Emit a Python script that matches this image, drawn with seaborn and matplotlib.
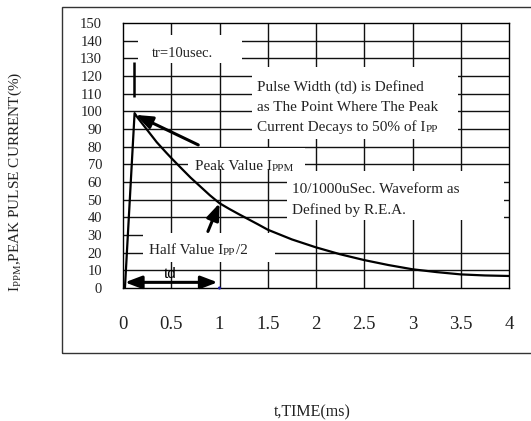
import matplotlib
matplotlib.use("Agg")
import matplotlib.pyplot as plt
import seaborn as sns
import pandas as pd
from matplotlib.patches import Rectangle

# ---- data ----
time_ms = [0.02, 0.12, 0.15, 0.2, 0.25, 0.3, 0.35, 0.4, 0.45, 0.5, 0.6, 0.7,
           0.8, 0.9, 1.0, 1.1, 1.2, 1.3, 1.4, 1.5, 1.75, 2.0, 2.25, 2.5,
           2.75, 3.0, 3.25, 3.5, 3.75, 4.0]
current_pct = [0, 99, 96.5, 93, 89.5, 86, 82.5, 79.5, 76.5, 73.6, 68, 62.5,
               57.5, 52.5, 48, 44.8, 41.8, 38.9, 36, 33, 27.5, 23, 19.1, 15.8,
               13, 10.6, 9, 7.7, 7.1, 6.8]
x_ticks = [0, 0.5, 1, 1.5, 2, 2.5, 3, 3.5, 4]
x_tick_labels = ["0", "0.5", "1", "1.5", "2", "2.5", "3", "3.5", "4"]
y_ticks = [0, 10, 20, 30, 40, 50, 60, 70, 80, 90, 100, 110, 120, 130, 140, 150]
td_end_t = [1.0]
td_end_i = [0]

sns.set_theme(style="white")
plt.rcParams["font.family"] = ["Liberation Serif", "DejaVu Serif"]

TXT = "#222222"
W, H = 531, 421
fig = plt.figure(figsize=(W / 100, H / 100), dpi=100)
ax = fig.add_axes([123 / W, 1 - 288 / H, 386 / W, 265 / H])

# outer frame
fig.add_artist(Rectangle((62 / W, 1 - 353 / H), (545 - 62) / W, (353 - 7) / H,
                         transform=fig.transFigure, fill=False, edgecolor="#333333",
                         lw=1.0))

ax.set_xlim(0, 4)
ax.set_ylim(0, 150)
ax.set_xticks(x_ticks)
ax.set_xticklabels(x_tick_labels)
ax.set_yticks(y_ticks)
ax.tick_params(axis="x", length=0, pad=20, labelsize=13.5, labelcolor=TXT)
ax.tick_params(axis="y", length=0, pad=15, labelsize=10.5, labelcolor=TXT)
for s in ax.spines.values():
    s.set_color("black")
    s.set_linewidth(1.0)

# grid drawn manually (one line is interrupted in the original)
GC, GW = "#111111", 1.0
for xv in x_ticks[1:-1]:
    ax.vlines(xv, 0, 150, color=GC, lw=GW, zorder=1)
for yv in y_ticks[1:-1]:
    if yv == 30:
        ax.hlines(yv, 0, 0.206, color=GC, lw=GW, zorder=1)
    else:
        ax.hlines(yv, 0, 4, color=GC, lw=GW, zorder=1)

# white label boxes
for (x0, y0, x1, y1) in [(0.155, 127.3, 1.23, 143.0),
                         (1.34, 84.5, 3.47, 125.0),
                         (0.67, 67.5, 1.89, 79.5),
                         (1.70, 38.5, 3.95, 66.0),
                         (0.206, 14.7, 1.57, 31.0)]:
    ax.add_patch(Rectangle((x0, y0), x1 - x0, y1 - y0, facecolor="white",
                           edgecolor="none", zorder=2))

# waveform
df = pd.DataFrame({"t": time_ms, "i": current_pct})
sns.lineplot(data=df, x="t", y="i", color="black", lw=1.6, estimator=None,
             sort=False, ax=ax, zorder=3)
sns.scatterplot(x=td_end_t, y=td_end_i, color="#1a1aa0", s=5, ax=ax,
                zorder=4, clip_on=False, edgecolor="none")


def label(x, y, pieces, size):
    prev = None
    for txt, small in pieces:
        fs = size * 0.72 if small else size
        if prev is None:
            prev = ax.text(x, y, txt, fontsize=fs, va="baseline", ha="left",
                           color=TXT, zorder=5)
        else:
            prev = ax.annotate(txt, xy=(1, 0), xycoords=prev, va="bottom",
                               ha="left", fontsize=fs, color=TXT, zorder=5)


label(0.296, 130.5, [("tr=10usec.", False)], 10.5)
label(1.39, 111.7, [("Pulse Width (td) is Defined", False)], 11)
label(1.39, 100.4, [("as The Point Where The Peak", False)], 11)
label(1.39, 88.9, [("Current Decays to 50% of I", False), ("PP", True)], 11)
label(0.742, 67.0, [("Peak Value I", False), ("PPM", True)], 11)
label(1.756, 53.6, [("10/1000uSec. Waveform as", False)], 11)
label(1.756, 41.9, [("Defined by R.E.A.", False)], 11)
label(0.268, 19.2, [("Half Value I", False), ("PP", True), ("/2", False)], 11)
ax.text(0.485, 5.6, "td", family=["Liberation Sans", "DejaVu Sans"], fontsize=11,
        ha="center", va="baseline", color="black", zorder=5)

# tr marker
ax.vlines(0.117, 108, 128, color="black", lw=1.8, zorder=4)

ast = "-|>,head_length=0.5,head_width=0.19"
ax.annotate("", xy=(0.13, 98), xytext=(0.78, 81),
            arrowprops=dict(arrowstyle=ast, lw=2.2, color="black",
                            mutation_scale=20, shrinkA=0, shrinkB=0), zorder=6)
ax.annotate("", xy=(1.0, 48), xytext=(0.88, 32),
            arrowprops=dict(arrowstyle=ast, lw=2.2, color="black",
                            mutation_scale=20, shrinkA=0, shrinkB=0), zorder=6)
ax.annotate("", xy=(0.98, 3.2), xytext=(0.02, 3.2),
            arrowprops=dict(arrowstyle="<|-|>,head_length=0.5,head_width=0.19",
                            lw=2.2, color="black", mutation_scale=20,
                            shrinkA=0, shrinkB=0), zorder=6)

ax.set_xlabel("t,TIME(ms)", fontsize=11.5, color=TXT)
ax.set_ylabel(r"I$_{\mathregular{PPM}}$,PEAK PULSE CURRENT(%)", fontsize=11, color=TXT)
ax.xaxis.set_label_coords((312 - 123) / 386, (288 - 404) / 265)
ax.yaxis.set_label_coords((24 - 123) / 386, (288 - 182) / 265)

fig.savefig("out.png", dpi=100)
